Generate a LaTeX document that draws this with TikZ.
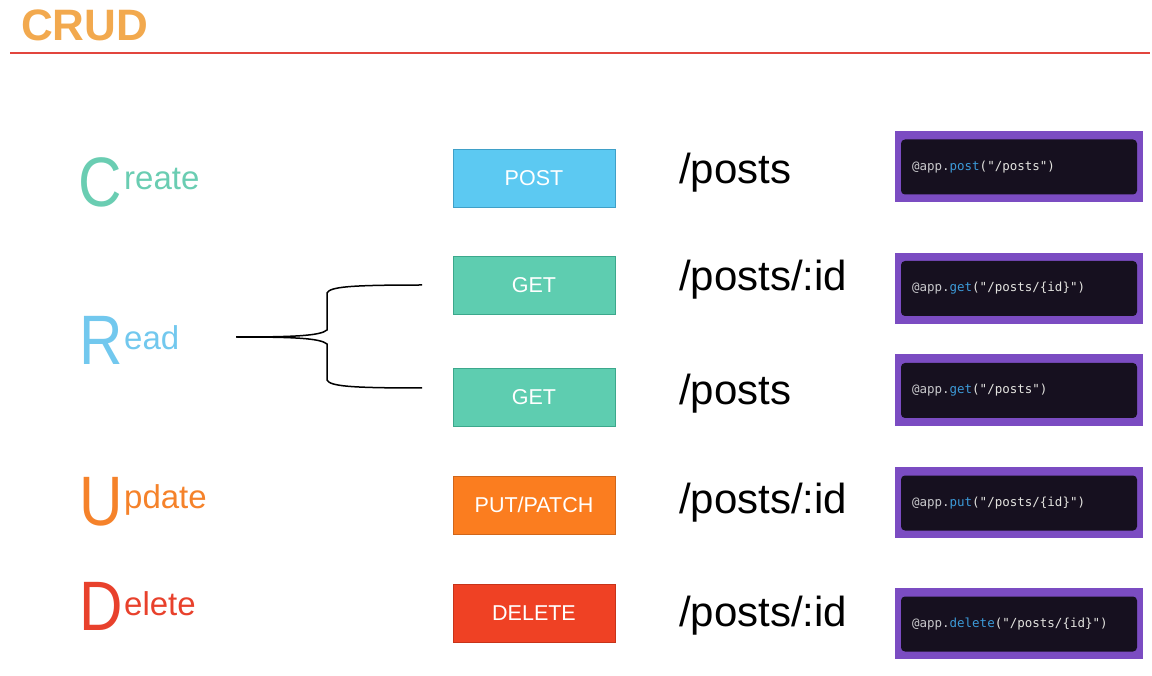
\documentclass[tikz,border=0pt]{standalone}
\usepackage{fontspec}
\usepackage{graphicx}
\setmainfont{Liberation Sans}
\newfontfamily\codefont{DejaVu Sans Mono}
\usetikzlibrary{positioning}

% palette
\definecolor{titleorange}{HTML}{F2A94E}
\definecolor{rulered}{HTML}{E2453E}
\definecolor{createcol}{HTML}{6ACDB2}
\definecolor{readcol}{HTML}{72C8EE}
\definecolor{updatecol}{HTML}{F5822A}
\definecolor{deletecol}{HTML}{E8412C}
\definecolor{postfill}{HTML}{5CC9F2}
\definecolor{postedge}{HTML}{3FA0C8}
\definecolor{getfill}{HTML}{5ECDB0}
\definecolor{getedge}{HTML}{3CA88C}
\definecolor{putfill}{HTML}{FB7D1F}
\definecolor{putedge}{HTML}{D0661A}
\definecolor{delfill}{HTML}{EF4124}
\definecolor{deledge}{HTML}{C73319}
\definecolor{codepurple}{HTML}{7B4CC2}
\definecolor{codebg}{HTML}{16101F}
\definecolor{codetext}{HTML}{C9C9CC}
\definecolor{codefn}{HTML}{3C9AD8}
\definecolor{codestr}{HTML}{E4E4E0}

\newcommand{\codeline}[2]{{\color{codetext}@app.}{\color{codefn}#1}{\color{codestr}("#2")}}

\tikzset{
  bigletter/.style={anchor=base west, inner sep=0pt, font=\fontsize{70}{70}\selectfont},
  restword/.style={anchor=base west, inner sep=0pt, font=\fontsize{33}{33}\selectfont},
  method/.style={minimum width=162pt, minimum height=58pt, inner sep=0pt,
    text=white, font=\fontsize{21.5}{21.5}\selectfont, line width=0.8pt},
  route/.style={anchor=base west, inner sep=0pt, font=\fontsize{42}{42}\selectfont},
  codeouter/.style={fill=codepurple, minimum width=248pt, minimum height=71pt, inner sep=0pt},
  codeinner/.style={fill=codebg, rounded corners=4pt, minimum width=236pt, minimum height=55pt,
    inner sep=0pt, text width=214pt, align=left, font=\codefont\fontsize{12.5}{13}\selectfont},
  brace/.style={line width=1.5pt, black},
}

\begin{document}
\begin{tikzpicture}[x=1pt, y=-1pt]
\useasboundingbox (0,0) rectangle (1152,676);

% heading and rule
\node[anchor=base west, inner sep=0pt, text=titleorange,
      font=\fontsize{44}{44}\selectfont\bfseries] (title) at (21,41) {CRUD};
\coordinate (ruleL) at (10,53);
\coordinate (ruleR) at (1150,53);
\draw[draw=rulered, line width=1.1pt] (ruleL) -- (ruleR);

% operation names
\node[bigletter, text=createcol] (cbig) at (78,207) {\scalebox{0.86}[1]{C}};
\node[restword, text=createcol] (crest) at (124,190) {reate};
\node[bigletter, text=readcol] (rbig) at (79,365) {\scalebox{0.86}[1]{R}};
\node[restword, text=readcol] (rrest) at (124,350) {ead};
\node[bigletter, text=updatecol] (ubig) at (79,525) {\scalebox{0.86}[1]{U}};
\node[restword, text=updatecol] (urest) at (124,508) {pdate};
\node[bigletter, text=deletecol] (dbig) at (79,630) {\scalebox{0.86}[1]{D}};
\node[restword, text=deletecol] (drest) at (124,615) {elete};

% HTTP methods
\node[method, fill=postfill, draw=postedge] (post) at (534,178.5) {POST};
\node[method, fill=getfill, draw=getedge] (getone) at (534,285.5) {GET};
\node[method, fill=getfill, draw=getedge] (getall) at (534,397) {GET};
\node[method, fill=putfill, draw=putedge] (put) at (534,505) {PUT/PATCH};
\node[method, fill=delfill, draw=deledge] (del) at (534,613.5) {DELETE};

% routes
\node[route] (r1) at (679,184) {/posts};
\node[route] (r2) at (679,291) {/posts/:id};
\node[route] (r3) at (679,405) {/posts};
\node[route] (r4) at (679,513) {/posts/:id};
\node[route] (r5) at (679,626) {/posts/:id};

% FastAPI decorators
\node[codeouter] (c1o) at (1019,166.5) {};
\node[codeinner] (c1) at (1019,167) {\codeline{post}{/posts}};
\node[codeouter] (c2o) at (1019,288.5) {};
\node[codeinner] (c2) at (1019,288.5) {\codeline{get}{/posts/\{id\}}};
\node[codeouter] (c3o) at (1019,390) {};
\node[codeinner] (c3) at (1019,390.5) {\codeline{get}{/posts}};
\node[codeouter] (c4o) at (1019,502) {};
\node[codeinner] (c4) at (1019,503) {\codeline{put}{/posts/\{id\}}};
\node[codeouter] (c5o) at (1019,623.5) {};
\node[codeinner] (c5) at (1019,624) {\codeline{delete}{/posts/\{id\}}};

% brace from Read to the two GET routes
\coordinate (bstem) at (236,337);
\coordinate (btop) at (422,285);
\coordinate (bbot) at (422,388);
\draw[brace] (bstem) .. controls (292,337) and (320,336) .. (327,330)
  -- (327,293) .. controls (330,287) and (348,285) .. (btop);
\draw[brace] (bstem) .. controls (292,337) and (320,338) .. (327,344)
  -- (327,380) .. controls (330,386) and (348,388) .. (bbot);
\end{tikzpicture}
\end{document}
